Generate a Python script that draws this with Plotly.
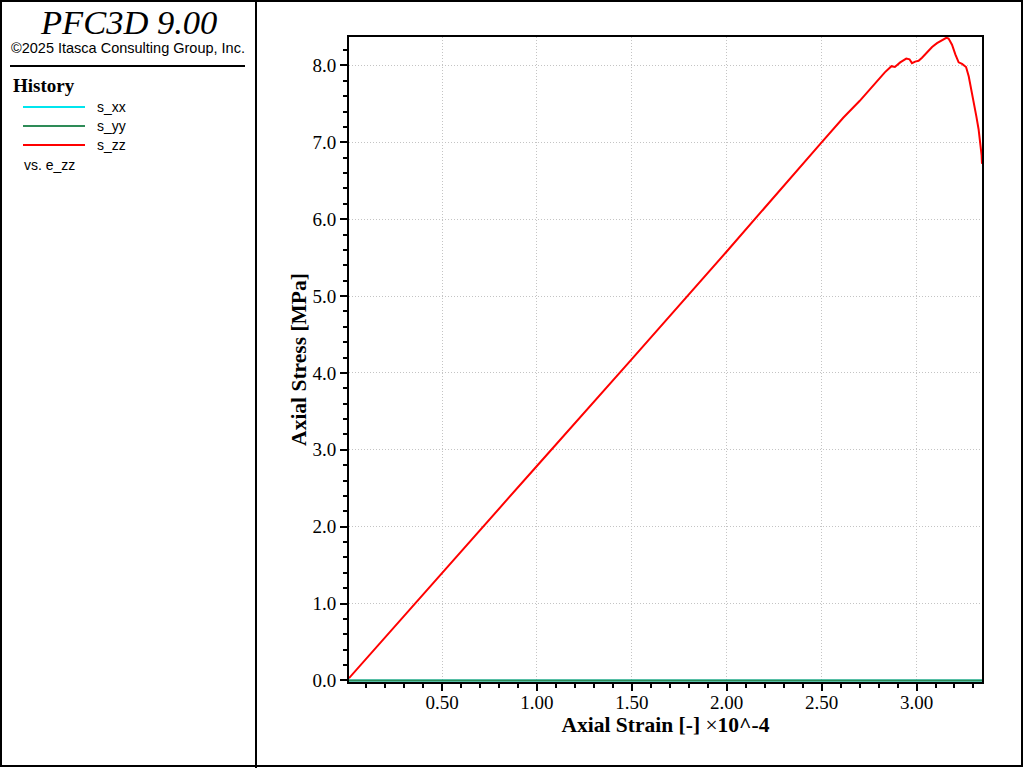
"""PFC3D history plot: axial stress vs axial strain."""

import plotly.graph_objects as go

# Axial strain (x 10^-4) and axial stress [MPa]
STRAIN = [0.01, 0.50, 1.00, 1.50, 2.00, 2.50, 2.614, 2.701, 2.789, 2.833,
          2.868, 2.886, 2.914, 2.928, 2.946, 2.963, 2.976, 2.993, 3.011,
          3.029, 3.055, 3.082, 3.108, 3.134, 3.157, 3.169, 3.187, 3.205,
          3.222, 3.240, 3.261, 3.275, 3.289, 3.301, 3.315, 3.327, 3.336,
          3.343, 3.345]
S_ZZ = [0.03, 1.40, 2.79, 4.18, 5.58, 7.00, 7.32, 7.54, 7.78, 7.91,
        7.99, 7.98, 8.04, 8.06, 8.09, 8.08, 8.03, 8.05, 8.06,
        8.10, 8.17, 8.24, 8.29, 8.33, 8.36, 8.35, 8.27, 8.14,
        8.04, 8.02, 7.98, 7.86, 7.69, 7.51, 7.34, 7.17, 7.00,
        6.83, 6.72]

# lateral stresses stay at zero for the whole test
LATERAL_STRAIN = [0.01, 3.345]
S_XX = [0.0, 0.0]
S_YY = [0.0, 0.0]

SERIES_NAMES = ['s_xx', 's_yy', 's_zz']
SERIES_COLORS = ['#00E5EE', '#2E8B57', '#FF0000']

X_RANGE = [0.01, 3.345]
Y_RANGE = [-0.02, 8.37]

SERIF = 'Liberation Serif'
SANS = 'Liberation Sans'

# plot area in pixels (1024 x 768 page)
PLOT_L, PLOT_R, PLOT_T, PLOT_B = 349, 982, 37, 682


def px(x):
    return (x - PLOT_L) / (PLOT_R - PLOT_L)


def py(y):
    return (PLOT_B - y) / (PLOT_B - PLOT_T)


fig = go.Figure()

xs = [LATERAL_STRAIN, LATERAL_STRAIN, STRAIN]
ys = [S_XX, S_YY, S_ZZ]
for name, color, x, y in zip(SERIES_NAMES, SERIES_COLORS, xs, ys):
    fig.add_trace(go.Scatter(
        x=x, y=y, name=name, mode='lines',
        line=dict(color=color, width=2),
        showlegend=False,
    ))

axis_common = dict(
    showline=True, linecolor='black', linewidth=2, mirror=True,
    ticks='outside', ticklen=7, tickwidth=2, tickcolor='black',
    showgrid=True, gridcolor='#C4C4C4', griddash='1px,2px', gridwidth=1,
    zeroline=False,
    tickfont=dict(family=SERIF, size=19, color='black'),
    layer='below traces',
)

fig.update_xaxes(
    range=X_RANGE, tick0=0, dtick=0.5, tickformat='.2f',
    ticklabelstandoff=-5,
    minor=dict(dtick=0.1, ticks='outside', ticklen=4, tickwidth=2,
               tickcolor='black', showgrid=False),
    title=dict(text='<b>Axial Strain [-] </b>×<b>10^-4</b>', standoff=0,
               font=dict(family=SERIF, size=21.5, color='black')),
    **axis_common,
)
fig.update_yaxes(
    range=Y_RANGE, tick0=0, dtick=1, tickformat='.1f',
    minor=dict(dtick=0.2, ticks='outside', ticklen=4, tickwidth=2,
               tickcolor='black', showgrid=False),
    title=dict(text='<b>Axial Stress [MPa]</b>', standoff=0,
               font=dict(family=SERIF, size=21.5, color='black')),
    **axis_common,
)

# left info panel: title, copyright, legend
annotations = [
    dict(x=px(128), y=py(22), text='<i>PFC3D 9.00</i>', xanchor='center',
         yanchor='middle', font=dict(family=SERIF, size=34.5, color='black')),
    dict(x=px(128), y=py(48), text='©2025 Itasca Consulting Group, Inc.',
         xanchor='center', yanchor='middle',
         font=dict(family=SANS, size=14.5, color='black')),
    dict(x=px(11), y=py(86), text='<b>History</b>', xanchor='left',
         yanchor='middle', font=dict(family=SERIF, size=19, color='black')),
    dict(x=px(22), y=py(165), text='vs. e_zz', xanchor='left',
         yanchor='middle', font=dict(family=SANS, size=14, color='black')),
]
shapes = [
    dict(type='rect', xref='paper', yref='paper', x0=px(1), x1=px(1022),
         y0=py(766), y1=py(1), line=dict(color='black', width=2)),
    dict(type='line', xref='paper', yref='paper', x0=px(256), x1=px(256),
         y0=py(768), y1=py(0), line=dict(color='black', width=2)),
    dict(type='line', xref='paper', yref='paper', x0=px(10), x1=px(245),
         y0=py(66), y1=py(66), line=dict(color='black', width=2)),
]
for i, (name, color) in enumerate(zip(SERIES_NAMES, SERIES_COLORS)):
    row_y = 107 + 19 * i
    shapes.append(dict(type='line', xref='paper', yref='paper',
                       x0=px(23), x1=px(85), y0=py(row_y), y1=py(row_y),
                       line=dict(color=color, width=2)))
    annotations.append(dict(x=px(95), y=py(row_y), text=name, xanchor='left',
                            yanchor='middle',
                            font=dict(family=SANS, size=14, color='black')))

fig.update_layout(
    width=1024, height=768,
    paper_bgcolor='white', plot_bgcolor='white',
    margin=dict(l=PLOT_L, r=1024 - PLOT_R, t=PLOT_T, b=768 - PLOT_B),
    showlegend=False,
    annotations=[dict(a, xref='paper', yref='paper', showarrow=False)
                 for a in annotations],
    shapes=shapes,
)

# drop the default page margin so the figure sits at the window corner
fig.write_html("out.html", config={'displayModeBar': False},
               post_script="document.body.style.margin='0';")
